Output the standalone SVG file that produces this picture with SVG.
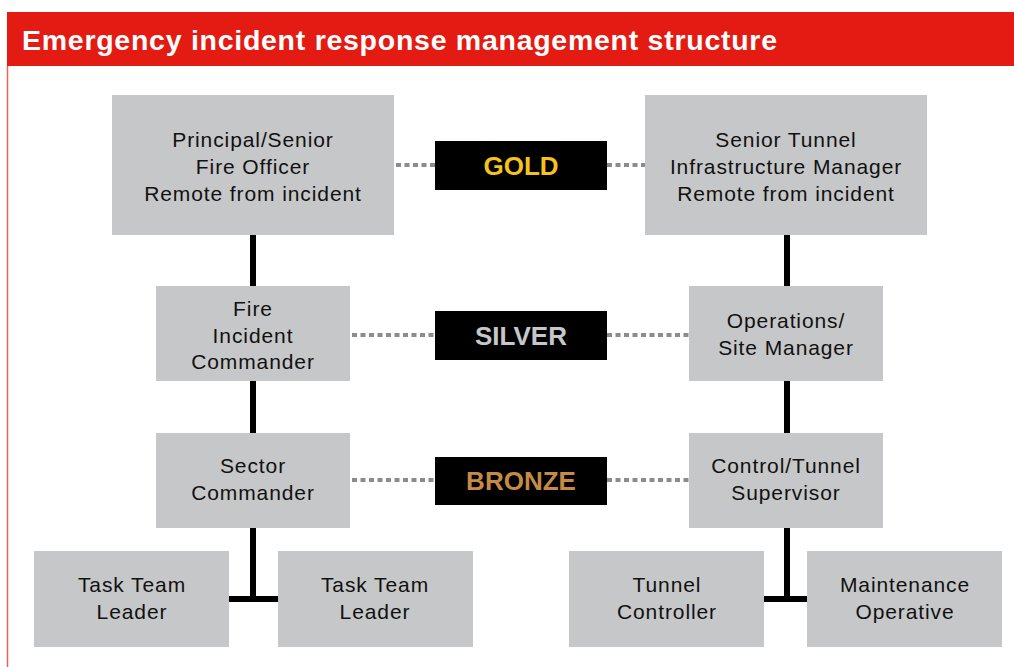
<svg xmlns="http://www.w3.org/2000/svg" width="1014" height="667" viewBox="0 0 1014 667">
<style>
.box{fill:#c6c7c8}
.t{font-family:"Liberation Sans",Arial,sans-serif;font-size:21px;letter-spacing:0.9px;fill:#111;text-anchor:middle}
.lvl{fill:#000}
.lt{font-family:"Liberation Sans",Arial,sans-serif;font-size:26px;font-weight:bold;text-anchor:middle}
.dot{stroke:#8c8c8c;stroke-width:4;stroke-dasharray:5 3.5;fill:none}
.ln{stroke:#000;stroke-width:6;fill:none}
</style>
<rect x="0" y="0" width="1014" height="667" fill="#fff"/>
<rect x="7" y="12" width="1007" height="54" fill="#e31b13"/>
<line x1="7.5" y1="66" x2="7.5" y2="667" stroke="#e8625a" stroke-width="1.5"/>
<text x="22" y="50" font-family="'Liberation Sans',Arial,sans-serif" font-size="28.5" font-weight="bold" fill="#fff" textLength="755" lengthAdjust="spacing">Emergency incident response management structure</text>

<g id="connectors">
<path class="dot" d="M396 165H435M607 165H645"/>
<path class="dot" d="M352 335H435M607 335H689"/>
<path class="dot" d="M352 480H435M607 480H689"/>
<path class="ln" d="M253 235V286M253 381V433M253 528V599M229 599H278"/>
<path class="ln" d="M787 235V286M787 381V433M787 528V599M764 599H807"/>
</g>

<g id="gold">
<rect class="lvl" x="435" y="141" width="172" height="49"/>
<text class="lt" x="521" y="175" fill="#f4c31c">GOLD</text>
</g>
<g id="silver">
<rect class="lvl" x="435" y="311" width="172" height="49"/>
<text class="lt" x="521" y="345" fill="#c6c7c9">SILVER</text>
</g>
<g id="bronze">
<rect class="lvl" x="435" y="457" width="172" height="48"/>
<text class="lt" x="521" y="490" fill="#c68a45">BRONZE</text>
</g>

<g id="principal-fire-officer">
<rect class="box" x="112" y="95" width="282" height="140"/>
<text class="t" x="253" y="147">Principal/Senior</text>
<text class="t" x="253" y="174">Fire Officer</text>
<text class="t" x="253" y="201">Remote from incident</text>
</g>
<g id="senior-tunnel-manager">
<rect class="box" x="645" y="95" width="282" height="140"/>
<text class="t" x="786" y="147">Senior Tunnel</text>
<text class="t" x="786" y="174">Infrastructure Manager</text>
<text class="t" x="786" y="201">Remote from incident</text>
</g>
<g id="fire-incident-commander">
<rect class="box" x="156" y="286" width="194" height="95"/>
<text class="t" x="253" y="316">Fire</text>
<text class="t" x="253" y="343">Incident</text>
<text class="t" x="253" y="369">Commander</text>
</g>
<g id="operations-site-manager">
<rect class="box" x="689" y="286" width="194" height="95"/>
<text class="t" x="786" y="328">Operations/</text>
<text class="t" x="786" y="355">Site Manager</text>
</g>
<g id="sector-commander">
<rect class="box" x="156" y="433" width="194" height="95"/>
<text class="t" x="253" y="473">Sector</text>
<text class="t" x="253" y="500">Commander</text>
</g>
<g id="control-tunnel-supervisor">
<rect class="box" x="689" y="433" width="194" height="95"/>
<text class="t" x="786" y="473">Control/Tunnel</text>
<text class="t" x="786" y="500">Supervisor</text>
</g>
<g id="task-team-leader-1">
<rect class="box" x="34" y="551" width="195" height="96"/>
<text class="t" x="132" y="592">Task Team</text>
<text class="t" x="132" y="619">Leader</text>
</g>
<g id="task-team-leader-2">
<rect class="box" x="278" y="551" width="195" height="96"/>
<text class="t" x="375" y="592">Task Team</text>
<text class="t" x="375" y="619">Leader</text>
</g>
<g id="tunnel-controller">
<rect class="box" x="569" y="551" width="195" height="96"/>
<text class="t" x="667" y="592">Tunnel</text>
<text class="t" x="667" y="619">Controller</text>
</g>
<g id="maintenance-operative">
<rect class="box" x="807" y="551" width="195" height="96"/>
<text class="t" x="905" y="592">Maintenance</text>
<text class="t" x="905" y="619">Operative</text>
</g>
</svg>
